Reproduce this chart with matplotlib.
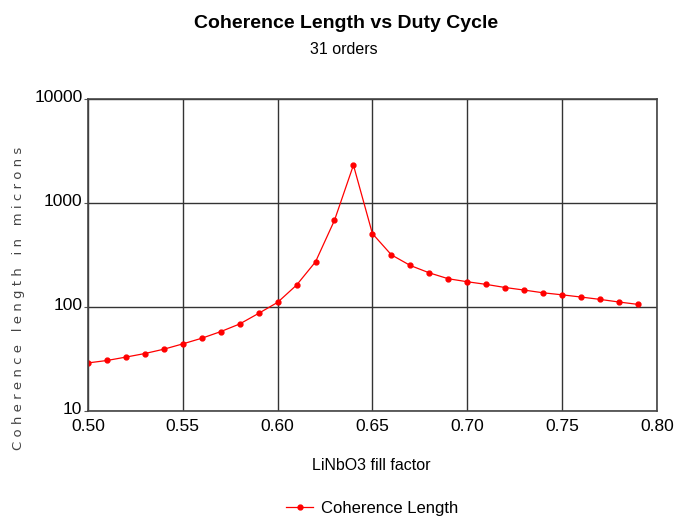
import matplotlib.pyplot as plt
import matplotlib.transforms as mtransforms
from matplotlib.ticker import FixedLocator, NullLocator

# fill factor (duty cycle) and coherence length in microns
fill_factor = [0.50, 0.51, 0.52, 0.53, 0.54, 0.55, 0.56, 0.57, 0.58, 0.59,
               0.60, 0.61, 0.62, 0.63, 0.64, 0.65, 0.66, 0.67, 0.68, 0.69,
               0.70, 0.71, 0.72, 0.73, 0.74, 0.75, 0.76, 0.77, 0.78, 0.79]
coherence = [29.0, 30.6, 33.0, 35.7, 39.3, 44.2, 50.1, 58.0, 68.7, 86.9,
             110.8, 162.5, 272, 682, 2313, 508, 317.5, 250.7, 213, 187,
             175, 165, 154, 145.5, 137, 131, 124.7, 118.4, 111.7, 106]

x_ticks = [0.50, 0.55, 0.60, 0.65, 0.70, 0.75, 0.80]
x_tick_labels = ['0.50', '0.55', '0.60', '0.65', '0.70', '0.75', '0.80']
y_ticks = [10, 100, 1000, 10000]
y_tick_labels = ['10', '100', '1000', '10000']

plt.rcParams['font.family'] = ['Liberation Sans', 'DejaVu Sans']

fig = plt.figure(figsize=(6.75, 5.2), dpi=100)
ax = fig.add_axes([0.1304, 0.2096, 0.8426, 0.6000])

ax.plot(fill_factor, coherence, color='red', lw=0.9, marker='o', ms=3.5,
        label='Coherence Length')

ax.set_yscale('log')
ax.set_xlim(0.50, 0.80)
ax.set_ylim(10, 10000)
ax.xaxis.set_major_locator(FixedLocator(x_ticks))
ax.set_xticklabels(x_tick_labels)
ax.yaxis.set_major_locator(FixedLocator(y_ticks))
ax.yaxis.set_minor_locator(NullLocator())
ax.set_yticklabels(y_tick_labels)
ax.tick_params(axis='both', labelsize=12.5, color='#555555', length=3, pad=1)
ax.tick_params(axis='x', length=0, pad=5.5)

# lift the y labels a little so "10" clears "0.50"
lift = mtransforms.ScaledTranslation(0, 2.5 / 72, fig.dpi_scale_trans)
for lbl in ax.get_yticklabels():
    lbl.set_transform(lbl.get_transform() + lift)

ax.grid(True, color='#333333', lw=1)
for s in ax.spines.values():
    s.set_color('#444444')
    s.set_linewidth(1.2)

fig.text(0.513, 0.954, 'Coherence Length vs Duty Cycle', ha='center', va='center',
         fontsize=14, fontweight='bold')
fig.text(0.51, 0.904, '31 orders', ha='center', va='center', fontsize=11.5)
fig.text(0.55, 0.104, 'LiNbO3 fill factor', ha='center', va='center', fontsize=11.5)
fig.text(0.028, 0.427, ' '.join('Coherence length in microns'), rotation=90,
         ha='center', va='center', fontsize=9.5, color='#444444',
         family='DejaVu Sans')

fig.legend(loc='center', bbox_to_anchor=(0.552, 0.023), frameon=False,
           fontsize=12, handlelength=1.6, handletextpad=0.5)

fig.savefig('out.png', dpi=100)
